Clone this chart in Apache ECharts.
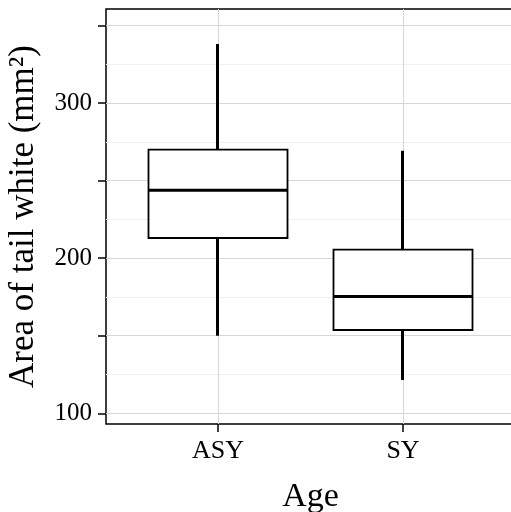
<!DOCTYPE html>
<html>
<head>
<meta charset="utf-8">
<script src="https://cdn.jsdelivr.net/npm/echarts@6/dist/echarts.min.js"></script>
<style>
  html, body { margin: 0; padding: 0; background: #fff; }
  #chart { width: 511px; height: 512px; }
</style>
</head>
<body>
<div id="chart"></div>
<script>
// 数据
var categories = ['ASY', 'SY'];
var lowWhisker = [150, 121.5];
var q1 = [213, 153.7];
var median = [243.7, 175.3];
var q3 = [270, 205.5];
var highWhisker = [338, 269.2];

var yMin = 93.1;
var yMax = 360.6;
var majorTicks = [100, 150, 200, 250, 300, 350];
var tickLabels = [100, 200, 300];
var minorLines = [125, 175, 225, 275, 325];

var font = 'Liberation Serif';

var chart = echarts.init(document.getElementById('chart'));

// 须线: 中位数处的零高实体 + 上下影线
var whiskerData = categories.map(function (c, i) {
    return [median[i], median[i], lowWhisker[i], highWhisker[i]];
});
// 箱体
var boxData = categories.map(function (c, i) {
    return [q1[i], q3[i], q1[i], q3[i]];
});
// 中位线
var medianData = categories.map(function (c, i) {
    return [median[i], median[i], median[i], median[i]];
});

var candleStyle = function (w) {
    return {
        color: '#fff',
        color0: '#fff',
        borderColor: '#000',
        borderColor0: '#000',
        borderColorDoji: '#000',
        borderWidth: w
    };
};

var option = {
    backgroundColor: '#fff',
    animation: false,
    grid: [
        // 外框 + y 轴 (右边框在画布外)
        { left: 106, width: 412, top: 9, bottom: 88, outerBoundsMode: 'none', containLabel: false, show: true, borderColor: '#000', borderWidth: 1.5, backgroundColor: '#fff' },
        // 箱线图
        { left: 218, right: 108, top: 9, bottom: 88, outerBoundsMode: 'none', containLabel: false }
    ],
    xAxis: [
        { gridIndex: 0, type: 'value', min: 0, max: 1, show: false },
        {
            gridIndex: 1,
            type: 'category',
            data: categories,
            boundaryGap: false,
            name: 'Age',
            nameLocation: 'middle',
            nameGap: 56,
            nameTextStyle: { fontFamily: font, fontSize: 34, color: '#000' },
            axisLine: { show: false },
            axisTick: { show: true, length: 8, lineStyle: { color: '#000', width: 1.5 } },
            axisLabel: { fontFamily: font, fontSize: 26, color: '#000', margin: 14 },
            splitLine: { show: true, lineStyle: { color: '#d6d6d6', width: 1 } }
        }
    ],
    yAxis: [
        {
            gridIndex: 0,
            type: 'value',
            min: yMin,
            max: yMax,
            name: 'Area of tail white (mm²)',
            nameLocation: 'middle',
            nameGap: 65,
            nameTextStyle: { fontFamily: font, fontSize: 35, color: '#000' },
            axisLine: { show: false },
            axisTick: { show: true, length: 8, customValues: majorTicks, lineStyle: { color: '#000', width: 1.5 } },
            axisLabel: { fontFamily: font, fontSize: 25, color: '#000', margin: 14, customValues: tickLabels },
            splitLine: { show: true, lineStyle: { color: '#d6d6d6', width: 1 } }
        },
        {
            gridIndex: 0,
            type: 'value',
            min: yMin,
            max: yMax,
            axisLine: { show: false },
            axisTick: { show: false, customValues: minorLines },
            axisLabel: { show: false },
            splitLine: { show: true, lineStyle: { color: '#f0f0f0', width: 1 } }
        },
        {
            gridIndex: 1,
            type: 'value',
            min: yMin,
            max: yMax,
            show: false,
            splitLine: { show: false }
        }
    ],
    series: [
        {
            name: 'whisker',
            type: 'candlestick',
            xAxisIndex: 1,
            yAxisIndex: 2,
            barWidth: 1,
            z: 2,
            itemStyle: candleStyle(3),
            data: whiskerData
        },
        {
            name: 'box',
            type: 'candlestick',
            xAxisIndex: 1,
            yAxisIndex: 2,
            barWidth: 140,
            z: 3,
            itemStyle: candleStyle(1.8),
            data: boxData
        },
        {
            name: 'median',
            type: 'candlestick',
            xAxisIndex: 1,
            yAxisIndex: 2,
            barWidth: 140,
            z: 4,
            itemStyle: candleStyle(3),
            data: medianData
        }
    ]
};

chart.setOption(option);
</script>
</body>
</html>
